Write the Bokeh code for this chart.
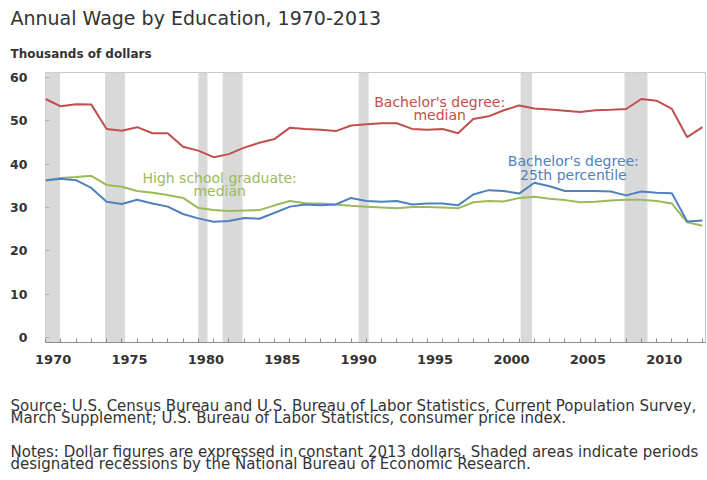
from bokeh.plotting import figure
from bokeh.models import (Label, BoxAnnotation, FixedTicker, Title,
                          CustomJSTickFormatter, Range1d)
from bokeh.embed import file_html
from bokeh.resources import INLINE

years = list(range(1970, 2014))

bach_median = [55.0, 53.3, 53.8, 53.7, 48.1, 47.7, 48.5, 47.1, 47.1, 44.0,
               43.1, 41.6, 42.3, 43.8, 44.9, 45.8, 48.4, 48.1, 47.9, 47.6,
               48.9, 49.2, 49.4, 49.4, 48.1, 47.9, 48.1, 47.1, 50.4, 51.0,
               52.4, 53.5, 52.8, 52.6, 52.3, 52.0, 52.4, 52.5, 52.7, 55.0,
               54.6, 52.7, 46.2, 48.5]

bach_25th = [36.2, 36.6, 36.3, 34.5, 31.3, 30.8, 31.8, 30.9, 30.2, 28.5,
             27.5, 26.7, 26.9, 27.6, 27.4, 28.8, 30.2, 30.7, 30.5, 30.7,
             32.2, 31.5, 31.3, 31.5, 30.7, 30.9, 30.9, 30.5, 33.0, 34.0,
             33.8, 33.2, 35.7, 34.9, 33.8, 33.8, 33.8, 33.7, 32.8, 33.7,
             33.4, 33.3, 26.8, 27.0]

hs_median = [36.3, 36.8, 37.0, 37.3, 35.2, 34.8, 33.8, 33.4, 32.9, 32.2,
             29.9, 29.4, 29.2, 29.3, 29.4, 30.5, 31.5, 31.0, 30.9, 30.7,
             30.4, 30.2, 30.0, 29.8, 30.1, 30.1, 30.0, 29.8, 31.2, 31.5,
             31.4, 32.2, 32.5, 32.0, 31.7, 31.2, 31.3, 31.6, 31.8, 31.8,
             31.5, 30.9, 26.6, 25.8]

rec_start = [1969.92, 1973.9, 1980.0, 1981.6, 1990.5, 2001.1, 2007.9]
rec_end = [1970.95, 1975.2, 1980.6, 1982.9, 1991.15, 2001.85, 2009.4]

x_label_years = [1970, 1975, 1980, 1985, 1990, 1995, 2000, 2005, 2010]
y_ticks = [0, 10, 20, 30, 40, 50, 60]

title_text = "Annual Wage by Education, 1970-2013"
unit_text = "Thousands of dollars"
source_lines = [
    "Source: U.S. Census Bureau and U.S. Bureau of Labor Statistics, Current Population Survey,",
    "March Supplement; U.S. Bureau of Labor Statistics, consumer price index.",
]
notes_lines = [
    "Notes: Dollar figures are expressed in constant 2013 dollars.  Shaded areas indicate periods",
    "designated recessions by the National Bureau of Economic Research.",
]

RED = "#c0504d"
BLUE = "#4f81bd"
GREEN = "#9bbb59"
TXT = "#333333"
FONT = "DejaVu Sans"

p = figure(width=707, height=480, output_backend="svg", toolbar_location=None,
           title=None, x_range=Range1d(1970, 2013.2), y_range=Range1d(-1.1, 61.1),
           min_border_left=45, min_border_right=2, min_border_top=0,
           min_border_bottom=138)
p.background_fill_color = "white"
p.border_fill_color = "white"
p.outline_line_color = "#c8c8c8"
p.xgrid.visible = False
p.ygrid.visible = False

for s, e in zip(rec_start, rec_end):
    p.add_layout(BoxAnnotation(left=s, right=e, fill_color="#d9d9d9",
                               fill_alpha=1.0, line_color=None, level="underlay"))

p.line(years, hs_median, color=GREEN, line_width=2)
p.line(years, bach_25th, color=BLUE, line_width=2)
p.line(years, bach_median, color=RED, line_width=2)

xa = p.xaxis[0]
xa.ticker = FixedTicker(ticks=[y + 0.5 for y in x_label_years], minor_ticks=years)
xa.formatter = CustomJSTickFormatter(code="return String(Math.floor(tick));")
xa.axis_line_color = "#8c8c8c"
xa.major_tick_in = 0
xa.major_tick_out = 0
xa.minor_tick_in = 4
xa.minor_tick_out = 0
xa.minor_tick_line_color = "#8c8c8c"
xa.major_label_standoff = 12
xa.major_label_text_font = FONT
xa.major_label_text_font_size = "13px"
xa.major_label_text_font_style = "bold"
xa.major_label_text_color = TXT

ya = p.yaxis[0]
ya.ticker = FixedTicker(ticks=y_ticks, minor_ticks=[])
ya.axis_line_color = None
ya.major_tick_in = 4
ya.major_tick_out = 0
ya.major_tick_line_color = "#b0b0b0"
ya.minor_tick_line_color = None
ya.major_label_standoff = 18
ya.major_label_text_font = FONT
ya.major_label_text_font_size = "12.5px"
ya.major_label_text_font_style = "bold"
ya.major_label_text_color = TXT


def series_label(x, y, text, color):
    p.add_layout(Label(x=x, y=y, text=text, text_color=color, text_font=FONT,
                       text_font_size="14px", text_align="center",
                       text_baseline="middle"))


series_label(1995.8, 54.4, "Bachelor's degree:", RED)
series_label(1995.8, 51.2, "median", RED)
series_label(2004.55, 40.6, "Bachelor's degree:", BLUE)
series_label(2004.55, 37.6, "25th percentile", BLUE)
series_label(1981.4, 36.7, "High school graduate:", GREEN)
series_label(1981.4, 33.7, "median", GREEN)


def title_block(text, size, standoff, valign, style="normal", line_height=1.0):
    return Title(text=text, align="left", offset=-35, standoff=standoff,
                 vertical_align=valign, text_font=FONT, text_font_size=size,
                 text_font_style=style, text_color=TXT,
                 text_line_height=line_height)


# above: first added sits next to the frame
p.add_layout(title_block(unit_text, "12px", 19.1, "top", "bold"), "above")
p.add_layout(title_block(title_text, "19px", 12.8, "top"), "above")

# below the x axis
p.add_layout(title_block("\n".join(source_lines), "15px", 56, "bottom",
                         line_height=0.72), "below")
p.add_layout(title_block("\n".join(notes_lines), "15px", -30, "bottom",
                         line_height=0.72), "below")

open("out.html", "w").write(file_html(p, INLINE))
